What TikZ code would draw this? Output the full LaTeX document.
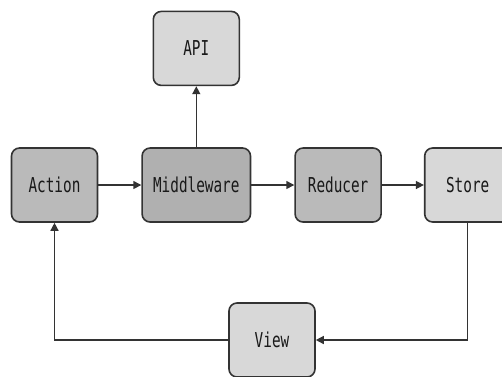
\documentclass[tikz,border=0pt]{standalone}
\usepackage{fontspec}
\setmonofont{DejaVu Sans Mono}[FakeStretch=0.7]
\usepackage{tikz}
\usetikzlibrary{arrows.meta, positioning}
\definecolor{boxdark}{HTML}{B0B0B0}
\definecolor{boxmid}{HTML}{BABABA}
\definecolor{boxlight}{HTML}{D8D8D8}
\definecolor{edge}{HTML}{333333}
\tikzset{box/.style={rectangle,draw=edge,line width=1.6pt,rounded corners=8pt,align=center,
                     minimum width=86pt,minimum height=74pt,inner xsep=11pt,
                     font=\ttfamily\fontsize{20.5}{24}\selectfont,text=black!90},
         arrow/.style={-{Triangle[length=8pt,width=8pt]},line width=1.4pt,draw=edge}}

\begin{document}
\begin{tikzpicture}[x=1pt,y=-1pt,node distance=43pt]
    \useasboundingbox (0,0) rectangle (502,376);
    % Main row
    \node (action) [box, fill=boxmid] at (54.5,185) {Action};
    \node (middleware) [box, fill=boxdark, right=43pt of action] {Middleware};
    \node (reducer) [box, fill=boxmid, right=43pt of middleware] {Reducer};
    \node (store) [box, fill=boxlight, right=42pt of reducer] {Store};
    % Side nodes
    \node (api) [box, fill=boxlight, above=61pt of middleware] {API};
    \node (view) [box, fill=boxlight] at (272,340) {View};
    % Flow
    \draw[arrow] (action) -- (middleware);
    \draw[arrow] (middleware) -- (reducer);
    \draw[arrow] (reducer) -- (store);
    \draw[arrow] (middleware) -- (api);
    \draw[arrow] (store.south) |- (view.east);
    \draw[arrow] (view.west) -| (action.south);
\end{tikzpicture}
\end{document}
